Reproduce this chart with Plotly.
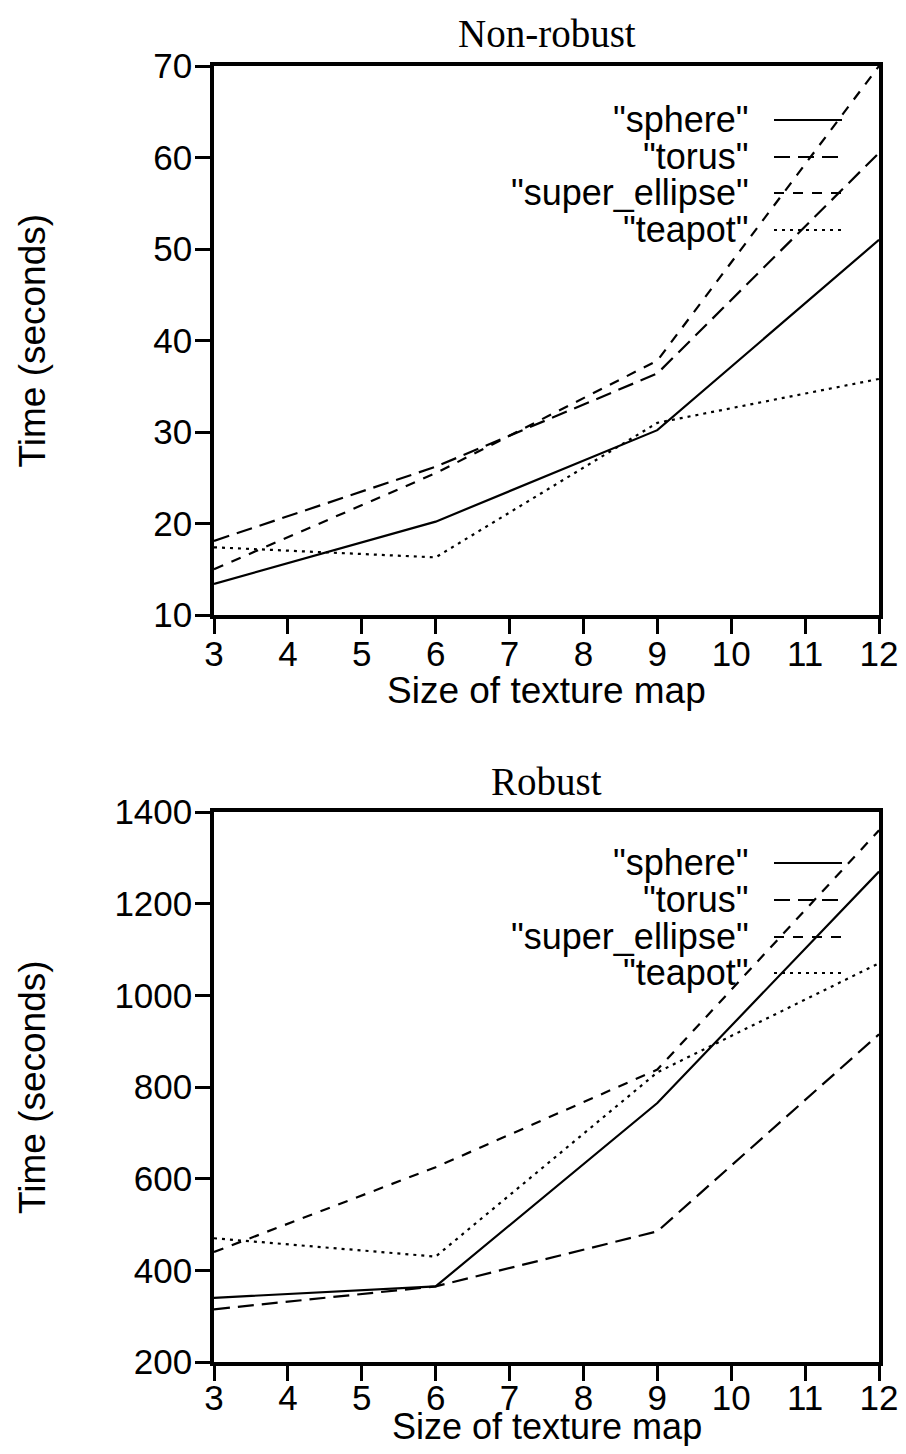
import plotly.graph_objects as go

sizes = [3, 6, 9, 12]
series_names = ['"sphere"', '"torus"', '"super_ellipse"', '"teapot"']

nonrobust_sphere = [13.4, 20.2, 30.2, 51.0]
nonrobust_torus = [18.1, 26.2, 36.4, 60.5]
nonrobust_super_ellipse = [15.0, 25.5, 37.8, 70.0]
nonrobust_teapot = [17.4, 16.3, 31.0, 35.8]

robust_sphere = [340, 365, 765, 1270]
robust_torus = [315, 365, 485, 915]
robust_super_ellipse = [440, 625, 838, 1360]
robust_teapot = [470, 430, 832, 1070]

x_ticks = list(range(3, 13))
nonrobust_y_ticks = [10, 20, 30, 40, 50, 60, 70]
robust_y_ticks = [200, 400, 600, 800, 1000, 1200, 1400]

dashes = ["solid", "16px,8px", "10px,9px", "3px,5px"]
LW = 2.2

FONT = "Liberation Sans"
SERIF = "Liberation Serif"

# page offset (default body margin of the html page)
OFF = 8
W, H = 906 - 2 * OFF, 1454 - 2 * OFF

def fx(p):
    return p - OFF

PL, PR = 214, 879
xl, xr = fx(PL), fx(PR)
top_t, top_b = fx(66), fx(615)
bot_t, bot_b = fx(812), fx(1362)
xdom = [xl / W, xr / W]

fig = go.Figure()

top = [nonrobust_sphere, nonrobust_torus, nonrobust_super_ellipse, nonrobust_teapot]
bot = [robust_sphere, robust_torus, robust_super_ellipse, robust_teapot]

for name, ys, d in zip(series_names, top, dashes):
    fig.add_trace(go.Scatter(x=sizes, y=ys, mode="lines", name=name,
                             line=dict(color="black", width=LW, dash=d),
                             xaxis="x", yaxis="y", showlegend=False))
for name, ys, d in zip(series_names, bot, dashes):
    fig.add_trace(go.Scatter(x=sizes, y=ys, mode="lines", name=name,
                             line=dict(color="black", width=LW, dash=d),
                             xaxis="x2", yaxis="y2", showlegend=False))

axis_common = dict(showline=True, linewidth=3.5, linecolor="black", mirror=True,
                   ticks="outside", ticklen=15, tickwidth=2.5, tickcolor="black",
                   showgrid=False, zeroline=False, ticklabeloverflow="allow",
                   tickfont=dict(family=FONT, size=35, color="black"))

fig.update_layout(
    width=W, height=H,
    margin=dict(l=0, r=0, t=0, b=0, autoexpand=False),
    paper_bgcolor="white", plot_bgcolor="white",
    xaxis=dict(domain=xdom, anchor="y", range=[3, 12], tickvals=x_ticks,
               ticklabelstandoff=-10, **axis_common),
    yaxis=dict(domain=[1 - top_b / H, 1 - top_t / H], anchor="x", range=[10, 70],
               tickvals=nonrobust_y_ticks, ticklabelstandoff=-4, **axis_common),
    xaxis2=dict(domain=xdom, anchor="y2", range=[3, 12], tickvals=x_ticks,
                ticklabelstandoff=-13, **axis_common),
    yaxis2=dict(domain=[1 - bot_b / H, 1 - bot_t / H], anchor="x2", range=[200, 1400],
                tickvals=robust_y_ticks, ticklabelstandoff=-4, **axis_common),
)

def px_ann(text, xp, yp, size, family, angle=0, xanchor="center"):
    fig.add_annotation(text=text, x=fx(xp) / W, y=1 - fx(yp) / H, xref="paper", yref="paper",
                       showarrow=False, textangle=angle, xanchor=xanchor, yanchor="middle",
                       font=dict(family=family, size=size, color="black"))

cx = (PL + PR) / 2
# Titles
px_ann("Non-robust", cx, 33, 39, SERIF)
px_ann("Robust", cx, 781, 39, SERIF)
# Axis titles
px_ann("Size of texture map", cx, 691, 37, FONT)
px_ann("Size of texture map", cx, 1426, 36, FONT)
px_ann("Time (seconds)", 32, (66 + 615) / 2, 37, FONT, angle=-90)
px_ann("Time (seconds)", 32, (812 + 1362) / 2, 37, FONT, angle=-90)

# Custom legends (gnuplot style: label then line sample)
text_x = (751 - PL) / (PR - PL)
l0 = (774 - PL) / (PR - PL)
l1 = (842 - PL) / (PR - PL)
top_rows = [120, 157, 193, 230]
bot_rows = [863, 900, 937, 973]
for axn, rows, tb, th in [("", top_rows, 615, 615 - 66), ("2", bot_rows, 1362, 1362 - 812)]:
    for name, d, yp in zip(series_names, dashes, rows):
        yd = (tb - yp) / th
        fig.add_annotation(text=name, x=text_x, y=yd, xref=f"x{axn} domain", yref=f"y{axn} domain",
                           showarrow=False, xanchor="right", yanchor="middle",
                           font=dict(family=FONT, size=36, color="black"))
        fig.add_shape(type="line", x0=l0, x1=l1, y0=yd, y1=yd,
                      xref=f"x{axn} domain", yref=f"y{axn} domain",
                      line=dict(color="black", width=LW, dash=d))

fig.write_html("out.html")
